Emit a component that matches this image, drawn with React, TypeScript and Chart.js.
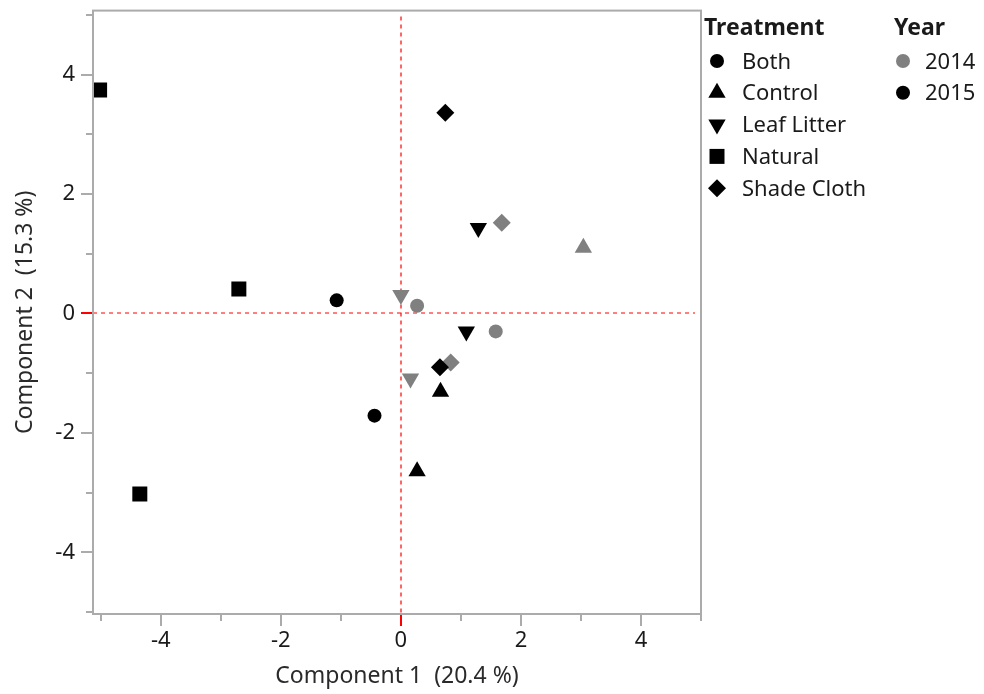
import React, { useEffect, useRef } from 'react';
import { Chart, registerables } from 'chart.js';
import { drawPoint } from 'chart.js/helpers';

Chart.register(...registerables);

const FONT = '"Noto Sans", "Open Sans", sans-serif';

// Treatment groups and their marker shapes
const treatments = ['Both', 'Control', 'Leaf Litter', 'Natural', 'Shade Cloth'];
const treatmentStyles = ['circle', 'triangle', 'triangle', 'rect', 'rectRot'];
const treatmentRotation = [0, 0, 180, 0, 0];
const treatmentRadius = [7, 10, 10, 10.6, 9];

// Sampling years and their colours
const years = ['2014', '2015'];
const yearColors = ['#808080', '#000000'];

// Principal component scores (Component 1, Component 2)
const both2014 = [{ x: 0.27, y: 0.13 }, { x: 1.58, y: -0.3 }];
const both2015 = [{ x: -1.07, y: 0.22 }, { x: -0.44, y: -1.71 }];
const control2014 = [{ x: 3.04, y: 1.1 }];
const control2015 = [{ x: 0.66, y: -1.31 }, { x: 0.27, y: -2.64 }];
const leafLitter2014 = [{ x: 0.0, y: 0.31 }, { x: 0.16, y: -1.09 }];
const leafLitter2015 = [{ x: 1.29, y: 1.43 }, { x: 1.09, y: -0.3 }];
const natural2015 = [{ x: -5.02, y: 3.74 }, { x: -2.7, y: 0.41 }, { x: -4.35, y: -3.02 }];
const shadeCloth2014 = [{ x: 1.68, y: 1.52 }, { x: 0.83, y: -0.82 }];
const shadeCloth2015 = [{ x: 0.74, y: 3.36 }, { x: 0.65, y: -0.9 }];

// Axis setup
const xTickValues = [-5, -4, -3, -2, -1, 0, 1, 2, 3, 4, 5];
const yTickValues = [-5, -4, -3, -2, -1, 0, 1, 2, 3, 4, 5];
const xRange = [-5.13, 5.0];
const yRange = [-5.03, 5.07];
const xTitle = 'Component 1  (20.4 %)';
const yTitle = 'Component 2  (15.3 %)';

// 2015 first so it is painted above 2014
const series = [
  { treatment: 0, year: 1, data: both2015 },
  { treatment: 1, year: 1, data: control2015 },
  { treatment: 2, year: 1, data: leafLitter2015 },
  { treatment: 3, year: 1, data: natural2015 },
  { treatment: 4, year: 1, data: shadeCloth2015 },
  { treatment: 0, year: 0, data: both2014 },
  { treatment: 1, year: 0, data: control2014 },
  { treatment: 2, year: 0, data: leafLitter2014 },
  { treatment: 4, year: 0, data: shadeCloth2014 },
];

const FRAME = '#ababab';
const REF = '#ff0000';
const TEXT = '#1a1a1a';

const framePlugin = {
  id: 'frameAndTicks',
  beforeDatasetsDraw(chart: any) {
    const { ctx, chartArea: a, scales } = chart;
    const x0 = Math.round(scales.x.getPixelForValue(0));
    const y0 = Math.round(scales.y.getPixelForValue(0));
    ctx.save();
    ctx.strokeStyle = REF;
    ctx.lineWidth = 1.2;
    ctx.setLineDash([4, 4]);
    ctx.beginPath();
    ctx.moveTo(x0, a.top + 6);
    ctx.lineTo(x0, a.bottom);
    ctx.moveTo(a.left, y0);
    ctx.lineTo(a.right - 6, y0);
    ctx.stroke();
    ctx.restore();
  },
  afterDatasetsDraw(chart: any) {
    const { ctx, chartArea: a, scales } = chart;
    ctx.save();
    ctx.strokeStyle = FRAME;
    ctx.lineWidth = 2;
    ctx.strokeRect(a.left, a.top, a.right - a.left, a.bottom - a.top);
    // tick marks: long on labelled values, short between
    for (const t of scales.x.ticks) {
      const px = Math.round(scales.x.getPixelForValue(t.value));
      const len = t.value % 2 === 0 ? 11 : 6;
      ctx.strokeStyle = t.value === 0 ? REF : FRAME;
      ctx.beginPath();
      ctx.moveTo(px, a.bottom + 1);
      ctx.lineTo(px, a.bottom + 1 + len);
      ctx.stroke();
    }
    for (const t of scales.y.ticks) {
      const py = Math.round(scales.y.getPixelForValue(t.value));
      const len = t.value % 2 === 0 ? 11 : 6;
      ctx.strokeStyle = t.value === 0 ? REF : FRAME;
      ctx.beginPath();
      ctx.moveTo(a.left - 1, py);
      ctx.lineTo(a.left - 1 - len, py);
      ctx.stroke();
    }
    ctx.restore();
  },
};

const legendPlugin = {
  id: 'groupLegend',
  afterDraw(chart: any) {
    const { ctx } = chart;
    ctx.save();
    ctx.textBaseline = 'alphabetic';
    ctx.textAlign = 'left';
    ctx.fillStyle = TEXT;
    ctx.font = `bold 23px ${FONT}`;
    ctx.fillText('Treatment', 704, 35);
    ctx.fillText('Year', 894, 35);
    ctx.font = `22px ${FONT}`;
    treatments.forEach((name, i) => {
      const cy = 61 + 31.8 * i;
      ctx.fillStyle = '#000000';
      drawPoint(ctx, {
        pointStyle: treatmentStyles[i],
        rotation: treatmentRotation[i],
        radius: treatmentRadius[i],
        borderWidth: 0,
      } as any, 717, cy);
      ctx.fillStyle = TEXT;
      ctx.fillText(name, 742, cy + 7.5);
    });
    years.forEach((name, i) => {
      const cy = 61 + 31.8 * i;
      ctx.fillStyle = yearColors[i];
      drawPoint(ctx, { pointStyle: 'circle', rotation: 0, radius: 7, borderWidth: 0 } as any, 903, cy);
      ctx.fillStyle = TEXT;
      ctx.fillText(name, 925, cy + 7.5);
    });
    ctx.restore();
  },
};

export default function App() {
  const canvasRef = useRef<HTMLCanvasElement | null>(null);

  useEffect(() => {
    if (!canvasRef.current) return;
    const chart = new Chart(canvasRef.current, {
      type: 'scatter',
      data: {
        datasets: series.map((s) => ({
          label: `${treatments[s.treatment]} ${years[s.year]}`,
          data: s.data,
          pointStyle: treatmentStyles[s.treatment] as any,
          rotation: treatmentRotation[s.treatment],
          pointRadius: treatmentRadius[s.treatment],
          pointHoverRadius: treatmentRadius[s.treatment],
          pointBorderWidth: 0,
          pointBackgroundColor: yearColors[s.year],
          pointBorderColor: yearColors[s.year],
        })),
      },
      options: {
        animation: false,
        responsive: true,
        maintainAspectRatio: false,
        devicePixelRatio: 1,
        layout: { padding: { left: 0, top: 8, right: 283, bottom: 0 } },
        plugins: {
          legend: { display: false },
          tooltip: { enabled: false },
          title: { display: false },
        },
        scales: {
          x: {
            type: 'linear',
            min: xRange[0],
            max: xRange[1],
            afterBuildTicks: (scale: any) => {
              scale.ticks = xTickValues.map((v) => ({ value: v }));
            },
            afterFit: (scale: any) => {
              scale.height = 80;
              scale.paddingLeft = 0;
              scale.paddingRight = 0;
            },
            grid: { display: false, drawTicks: false },
            border: { display: false },
            ticks: {
              autoSkip: false,
              maxRotation: 0,
              padding: 13.8,
              color: TEXT,
              font: { family: FONT, size: 22 },
              callback: (v: any) => (Number(v) % 2 === 0 ? String(v) : ''),
            },
            title: {
              display: true,
              text: xTitle,
              color: '#2a2a2a',
              font: { family: FONT, size: 23 },
              padding: { top: 0, bottom: 4.2 },
            },
          },
          y: {
            type: 'linear',
            min: yRange[0],
            max: yRange[1],
            afterBuildTicks: (scale: any) => {
              scale.ticks = yTickValues.map((v) => ({ value: v }));
            },
            afterFit: (scale: any) => {
              scale.width = 93;
              scale.paddingTop = 0;
              scale.paddingBottom = 0;
            },
            grid: { display: false, drawTicks: false },
            border: { display: false },
            ticks: {
              autoSkip: false,
              padding: 18,
              color: TEXT,
              font: { family: FONT, size: 22 },
              callback: (v: any) => (Number(v) % 2 === 0 ? String(v) : ''),
            },
            title: {
              display: true,
              text: yTitle,
              color: '#2a2a2a',
              font: { family: FONT, size: 23 },
              padding: { top: 11.2, bottom: 0 },
            },
          },
        },
      },
      plugins: [framePlugin, legendPlugin],
    });
    return () => chart.destroy();
  }, []);

  return (
    <div style={{ position: 'fixed', left: 0, top: 0, width: 984, height: 694, background: '#ffffff' }}>
      <canvas ref={canvasRef} />
    </div>
  );
}
